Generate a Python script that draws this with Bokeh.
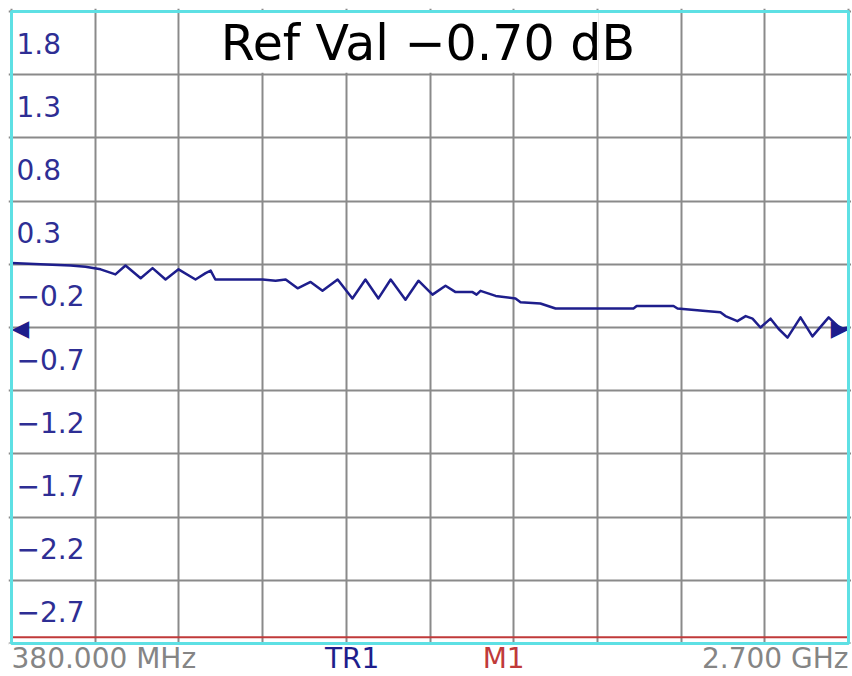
from bokeh.plotting import figure
from bokeh.models import FixedTicker, ColumnDataSource, Range1d
from bokeh.core.properties import value
from bokeh.embed import file_html
from bokeh.resources import INLINE

# ---- data ----
start_mhz = 380.0
stop_mhz = 2700.0
ref_val_db = -0.70
top_db = 1.8
db_per_div = 0.5
n_div = 10
limit_db = -3.15

freq_mhz = [380, 460, 544, 585, 627, 668, 696, 738, 771, 807,
            843, 890, 918, 932, 945, 1076, 1112, 1140, 1173, 1209,
            1242, 1284, 1325, 1361, 1397, 1431, 1472, 1508, 1547, 1583,
            1611, 1658, 1669, 1680, 1722, 1777, 1791, 1846, 1888, 1985,
            2104, 2113, 2215, 2226, 2304, 2345, 2359, 2392, 2415, 2434,
            2456, 2484, 2506, 2531, 2567, 2600, 2645, 2678, 2700]
trace_db = [-0.19, -0.20, -0.21, -0.22, -0.24, -0.28, -0.21, -0.31, -0.23, -0.32,
            -0.24, -0.32, -0.27, -0.25, -0.32, -0.32, -0.33, -0.32, -0.39, -0.34,
            -0.41, -0.32, -0.47, -0.32, -0.47, -0.32, -0.48, -0.33, -0.44, -0.37,
            -0.42, -0.42, -0.44, -0.41, -0.45, -0.47, -0.50, -0.51, -0.55, -0.55,
            -0.55, -0.53, -0.53, -0.55, -0.57, -0.58, -0.61, -0.65, -0.61, -0.63,
            -0.70, -0.63, -0.71, -0.78, -0.62, -0.77, -0.62, -0.71, -0.70]

y_tick_values = [1.8, 1.3, 0.8, 0.3, -0.2, -0.7, -1.2, -1.7, -2.2, -2.7]
y_tick_labels = ["1.8", "1.3", "0.8", "0.3", "\u22120.2", "\u22120.7",
                 "\u22121.2", "\u22121.7", "\u22122.2", "\u22122.7"]
start_label = "380.000 MHz"
stop_label = "2.700 GHz"
trace_name = "TR1"
marker_name = "M1"
title_text = "Ref Val \u2212%.2f dB" % abs(ref_val_db)

# ---- layout constants (pixels) ----
W, H = 851, 676
LEFT_PX, TOP_PX = 8, 8          # canvas margin before the frame
PAD_PX = 3                       # frame padding around the cyan border
FOOT_PX = 33                     # label row below the border

# ---- derived ----
bottom_db = top_db - n_div * db_per_div
span_mhz = stop_mhz - start_mhz
div_mhz = span_mhz / n_div
x_grid = [start_mhz + k * div_mhz for k in range(n_div + 1)]
y_grid = [top_db - k * db_per_div for k in range(n_div + 1)]

frame_w = W - LEFT_PX
frame_h = H - TOP_PX
px_per_mhz = (frame_w - 2 * PAD_PX) / span_mhz
px_per_db = (frame_h - PAD_PX - FOOT_PX) / (top_db - bottom_db)
pad_x = PAD_PX / px_per_mhz
pad_y = PAD_PX / px_per_db
foot_y = FOOT_PX / px_per_db

NAVY = "#1e1e8c"
LABEL_BLUE = "#2e2e94"
GRID = "#8a8a8a"
CYAN = "#5ee0e4"
RED = "#c03a3a"
GRAY = "#858585"

p = figure(width=W, height=H, output_backend="svg", toolbar_location=None,
           x_range=Range1d(start_mhz - pad_x, stop_mhz + pad_x),
           y_range=Range1d(bottom_db - foot_y, top_db + pad_y),
           min_border_left=LEFT_PX, min_border_right=0, min_border_top=TOP_PX,
           min_border_bottom=0)
p.xaxis.visible = False
p.yaxis.visible = False
p.xgrid.ticker = FixedTicker(ticks=x_grid)
p.ygrid.ticker = FixedTicker(ticks=y_grid)
for g in (p.xgrid, p.ygrid):
    g.grid_line_color = GRID
    g.grid_line_width = 2
    g.grid_line_alpha = 1.0
p.outline_line_color = None
p.background_fill_color = "white"
p.border_fill_color = "white"

# white cover for the label row and the outer padding
p.quad(left=[start_mhz - pad_x], right=[stop_mhz + pad_x],
       top=[bottom_db], bottom=[bottom_db - foot_y],
       fill_color="white", line_color=None)

# limit / marker line near the bottom
p.segment(x0=[start_mhz], x1=[stop_mhz], y0=[limit_db], y1=[limit_db],
          line_color=RED, line_width=2)

# white title box over the top row (divisions 2..7)
p.quad(left=[x_grid[2] + div_mhz * 0.012], right=[x_grid[7] + div_mhz * 0.015],
       top=[top_db], bottom=[top_db - db_per_div * 0.97],
       fill_color="white", line_color=None)

p.text(x=[start_mhz + span_mhz * 0.4975], y=[top_db - db_per_div * 0.50], text=[title_text],
       text_font=value("DejaVu Sans"), text_font_size="49px", text_color="black",
       text_align="center", text_baseline="alphabetic")

# in-plot y labels
ysrc = ColumnDataSource(dict(x=[start_mhz] * len(y_tick_values),
                             y=[v - db_per_div * 0.50 for v in y_tick_values],
                             t=y_tick_labels))
p.text(x="x", y="y", text="t", source=ysrc, x_offset=5,
       text_font=value("DejaVu Sans"), text_font_size="28px", text_color=LABEL_BLUE,
       text_align="left", text_baseline="alphabetic")

# trace
p.line(freq_mhz, trace_db, line_color=NAVY, line_width=2.5, line_join="round")

# reference arrows
p.text(x=[start_mhz], y=[ref_val_db], text=["\u25c0"], x_offset=0,
       text_font=value("DejaVu Sans"), text_font_size="23px", text_color=NAVY,
       text_align="left", text_baseline="middle")
p.text(x=[freq_mhz[-1]], y=[trace_db[-1]], text=["\u25b6"], x_offset=0,
       text_font=value("DejaVu Sans"), text_font_size="23px", text_color=NAVY,
       text_align="right", text_baseline="middle")

# cyan border
p.quad(left=[start_mhz], right=[stop_mhz], top=[top_db], bottom=[bottom_db],
       fill_color=None, line_color=CYAN, line_width=3)

# bottom annotation row
y_bot = bottom_db - foot_y * 0.45
bsrc = ColumnDataSource(dict(
    x=[start_mhz, stop_mhz, start_mhz + span_mhz * 0.407, start_mhz + span_mhz * 0.588],
    y=[y_bot] * 4,
    t=[start_label, stop_label, trace_name, marker_name],
    c=[GRAY, GRAY, NAVY, RED],
    a=["left", "right", "center", "center"]))
p.text(x="x", y="y", text="t", source=bsrc, text_color="c", text_align="a",
       text_font=value("DejaVu Sans"), text_font_size="28px", text_baseline="alphabetic")

open("out.html", "w").write(file_html(p, INLINE))
